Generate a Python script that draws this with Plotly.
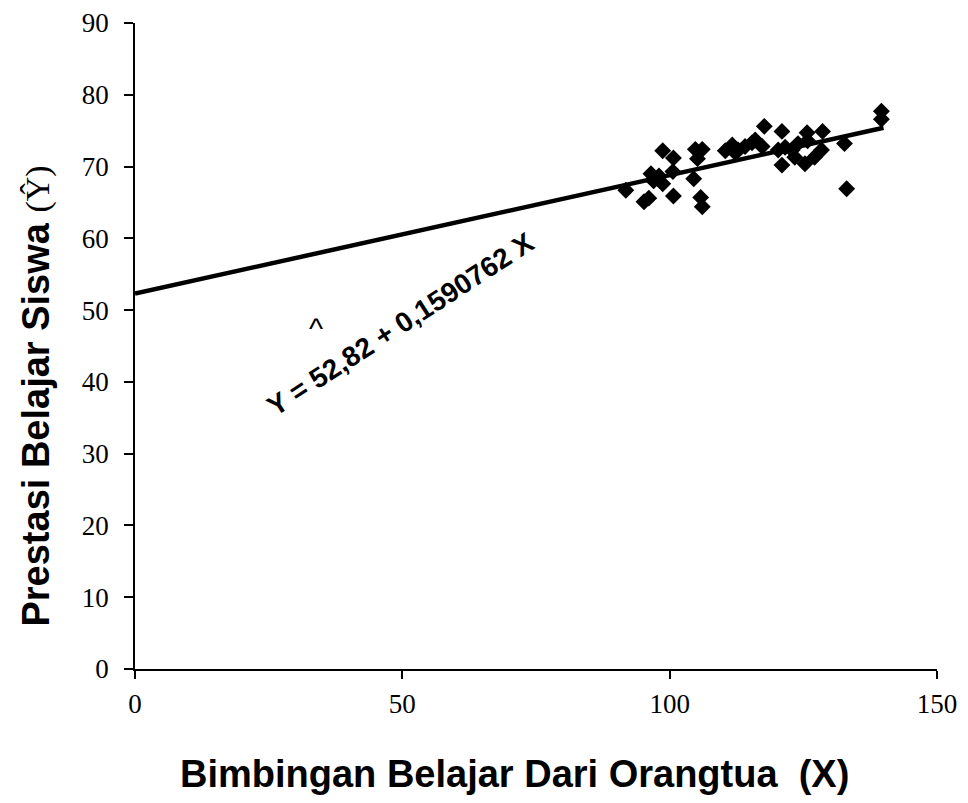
import plotly.graph_objects as go

# Observed scatter data (Bimbingan Belajar X, Prestasi Belajar Y)
x_obs = [91.8, 95.2, 96.1, 96.5, 98.0, 97.0, 98.7, 98.7, 100.7, 100.6, 100.7,
         104.8, 106.1, 105.2, 104.5, 105.8, 106.1, 110.4,
         111.7, 112.8, 114.1, 115.4, 116.0, 117.3, 112.3,
         117.7, 121.0, 120.3, 121.6, 122.9, 124.0,
         121.0, 123.4, 125.3, 127.1, 128.4, 125.7, 125.8,
         128.6, 132.7, 133.1, 139.6, 139.6]
y_obs = [66.7, 65.1, 65.6, 69.0, 68.7, 68.0, 67.6, 72.2, 71.2, 69.3, 65.9,
         72.4, 72.4, 71.1, 68.3, 65.7, 64.4, 72.2,
         73.0, 72.3, 72.8, 73.3, 73.7, 72.8, 71.9,
         75.6, 74.9, 72.3, 72.7, 72.3, 73.2,
         70.2, 71.3, 70.4, 71.3, 72.3, 74.7, 73.6,
         74.9, 73.2, 66.9, 77.7, 76.6]

# Regression line end points
line_x = [0, 140]
line_y = [52.3, 75.4]

x_ticks = [0, 50, 100, 150]
y_ticks = [0, 10, 20, 30, 40, 50, 60, 70, 80, 90]

equation_text = "Y = 52,82 + 0,1590762 X"
x_title = "Bimbingan Belajar Dari Orangtua  (X)"
y_title_main = "Prestasi Belajar Siswa "
y_title_sym = "(Ŷ)"

fig = go.Figure()
fig.add_trace(go.Scatter(x=line_x, y=line_y, mode="lines",
                         line=dict(color="black", width=4.5), showlegend=False))
fig.add_trace(go.Scatter(x=x_obs, y=y_obs, mode="markers",
                         marker=dict(symbol="diamond", size=13, color="black"),
                         showlegend=False))

tick_font = dict(family="Liberation Serif", size=27, color="black")
fig.update_xaxes(range=[0, 150], tickvals=x_ticks, showgrid=False, zeroline=False,
                 showline=True, linecolor="black", linewidth=1.5,
                 ticks="outside", ticklen=8, tickwidth=1.5, tickcolor="black",
                 tickfont=tick_font, ticklabelstandoff=2, ticklabeloverflow="allow")
fig.update_yaxes(range=[0, 90], tickvals=y_ticks, showgrid=False, zeroline=False,
                 showline=True, linecolor="black", linewidth=1.5,
                 ticks="outside", ticklen=9, tickwidth=1.5, tickcolor="black",
                 tickfont=tick_font, ticklabelstandoff=10, ticklabeloverflow="allow")

title_font = dict(family="Liberation Sans", size=38, color="black")
fig.add_annotation(xref="paper", yref="paper", x=0.4738, y=-0.1625,
                   text="<b>" + x_title + "</b>", showarrow=False,
                   xanchor="center", yanchor="middle", font=title_font)
fig.add_annotation(xref="paper", yref="paper", x=-0.124, y=0.4226,
                   text="<b>" + y_title_main + "</b>"
                        + "<span style=\"font-family:'Liberation Serif';font-size:34px\">"
                        + y_title_sym + "</span>",
                   showarrow=False, textangle=-90,
                   xanchor="center", yanchor="middle", font=title_font)
fig.add_annotation(x=49.6, y=48.0, text="<b>" + equation_text + "</b>",
                   showarrow=False, textangle=-33, xanchor="center", yanchor="middle",
                   font=dict(family="Liberation Sans", size=28, color="black"))
fig.add_annotation(x=33.8, y=47.4, text="^", showarrow=False,
                   xanchor="center", yanchor="middle",
                   font=dict(family="Liberation Sans", size=30, color="black"))

fig.update_layout(width=952, height=787, paper_bgcolor="white", plot_bgcolor="white",
                  margin=dict(l=127, r=23, t=15, b=126, autoexpand=False))

fig.write_html("out.html")
